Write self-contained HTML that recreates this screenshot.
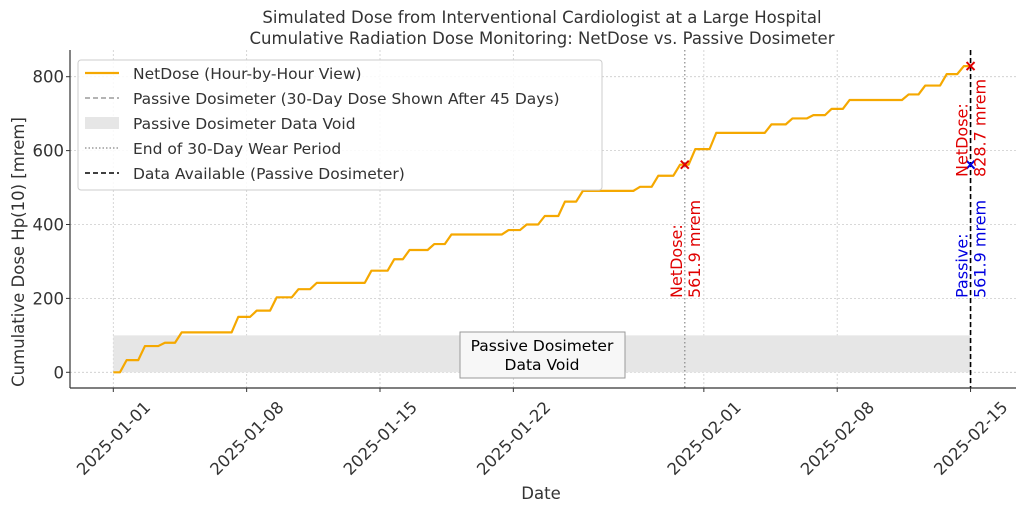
<!DOCTYPE html>
<html><head><meta charset="utf-8"><style>
html,body{margin:0;padding:0;background:#fff;}
svg{display:block;font-family:"DejaVu Sans","Liberation Sans",sans-serif;}
</style></head><body>
<svg id="chart" width="1024" height="511" viewBox="0 0 1024 511" xmlns="http://www.w3.org/2000/svg">
<text x="542" y="23" text-anchor="middle" font-size="16.5" fill="#333">Simulated Dose from Interventional Cardiologist at a Large Hospital</text>
<text x="542" y="44" text-anchor="middle" font-size="16.5" fill="#333">Cumulative Radiation Dose Monitoring: NetDose vs. Passive Dosimeter</text>
<g id="grid"></g>
<g id="marks"></g>
<line x1="70" y1="50" x2="70" y2="388" stroke="#333" stroke-width="1.2"/>
<line x1="70" y1="388" x2="1016" y2="388" stroke="#333" stroke-width="1.2"/>
<g id="ticks"></g>
<text transform="translate(24,252) rotate(-90)" text-anchor="middle" font-size="16.5" fill="#333">Cumulative Dose Hp(10) [mrem]</text>
<text x="541" y="499" text-anchor="middle" font-size="16.5" fill="#333">Date</text>
<g>
<rect x="78" y="60" width="524" height="130" rx="3" fill="#fff" fill-opacity="0.85" stroke="#ccc"/>
<line x1="85" y1="73" x2="119" y2="73" stroke="#f5a800" stroke-width="2.2"/>
<text x="133" y="79" font-size="15.5" fill="#333">NetDose (Hour-by-Hour View)</text>
<line x1="85" y1="98" x2="119" y2="98" stroke="#888" stroke-width="1.2" stroke-dasharray="5,3"/>
<text x="133" y="104" font-size="15.5" fill="#333">Passive Dosimeter (30-Day Dose Shown After 45 Days)</text>
<rect x="85" y="117" width="34" height="12" fill="#e6e6e6"/>
<text x="133" y="129" font-size="15.5" fill="#333">Passive Dosimeter Data Void</text>
<line x1="85" y1="148" x2="119" y2="148" stroke="#888" stroke-width="1.2" stroke-dasharray="1.5,2"/>
<text x="133" y="154" font-size="15.5" fill="#333">End of 30-Day Wear Period</text>
<line x1="85" y1="173" x2="119" y2="173" stroke="#000" stroke-width="1.6" stroke-dasharray="5,3"/>
<text x="133" y="179" font-size="15.5" fill="#333">Data Available (Passive Dosimeter)</text>
</g>
</svg>
<script>
const stepDays=[0.35,1.31,2.36,3.24,6.21,7.18,8.23,9.37,10.33,13.2,14.4,15.2,16.5,17.4,20.4,21.35,22.3,23.36,24.3,27.3,28.26,29.4,30.2,31.3,34.2,35.3,36.4,37.36,38.3,41.4,42.27,43.4,44.3];
const stepValues=[33,71,80,108,150,167,203,225,242,275,306,331,347,373,385,400,423,462,491,502,532,561.9,604,648,671,687,696,713,737,752,776,807,828.7];
const endDay=45;
const wearEndDay=30;
const netDoseAt30=561.9;
const netDoseAt45=828.7;
const passiveDose=561.9;
const voidTop=100;
const yTicks=[0,200,400,600,800];
const xTickDays=[0,7,14,21,31,38,45];
const xTickLabels=["2025-01-01","2025-01-08","2025-01-15","2025-01-22","2025-02-01","2025-02-08","2025-02-15"];

const NS="http://www.w3.org/2000/svg";
const X=d=>113.3+d*19.05;
const Y=v=>372.3-v*0.3695;
function mk(parent,tag,attrs){const e=document.createElementNS(NS,tag);for(const k in attrs)e.setAttribute(k,attrs[k]);document.getElementById(parent).appendChild(e);return e;}

yTicks.forEach(v=>{
 const g=mk('grid','line',{x1:70,x2:1016,y1:Y(v),y2:Y(v),stroke:'#ccc','stroke-dasharray':'2,2','stroke-width':0.8});
 
 
 const t=mk('ticks','text',{x:64,y:Y(v)+6,'text-anchor':'end','font-size':16.5,fill:'#333'});
 t.textContent=v;
 
 
 mk('ticks','line',{x1:66,x2:70,y1:Y(v),y2:Y(v),stroke:'#333'});
});
xTickDays.forEach((d,i)=>{
 const g=mk('grid','line',{x1:X(d),x2:X(d),y1:50,y2:388,stroke:'#ccc','stroke-dasharray':'2,2','stroke-width':0.8});
 
 
 mk('ticks','line',{x1:X(d),x2:X(d),y1:388,y2:392,stroke:'#333'});
 const t=mk('ticks','text',{transform:`translate(${X(d)},${438}) rotate(-45)`,'text-anchor':'middle','font-size':16.5,fill:'#333',dy:'6'});
 t.textContent=xTickLabels[i];
 
 
});
const vr=mk('marks','rect',{x:X(0),y:Y(voidTop),width:X(endDay)-X(0),height:Y(0)-Y(voidTop),fill:'#e6e6e6'});


let pts=[[X(0),Y(0)]];let prev=0;
stepDays.forEach((d,i)=>{pts.push([X(d),Y(prev)]);pts.push([X(d+0.35),Y(stepValues[i])]);prev=stepValues[i];});
pts.push([X(endDay),Y(prev)]);
const pl=mk('marks','polyline',{points:pts.map(p=>p.join(',')).join(' '),fill:'none',stroke:'#f5a800','stroke-width':2.2,'stroke-linejoin':'round'});


const vl1=mk('marks','line',{x1:X(wearEndDay),x2:X(wearEndDay),y1:50,y2:388,stroke:'#888','stroke-width':1.2,'stroke-dasharray':'1.5,2.5'});


const vl2=mk('marks','line',{x1:X(endDay),x2:X(endDay),y1:50,y2:388,stroke:'#000','stroke-width':1.6,'stroke-dasharray':'5,3'});


function cross(d,v,c,name){const x=X(d),y=Y(v);const p=mk('marks','path',{d:`M${x-4},${y-4}L${x+4},${y+4}M${x-4},${y+4}L${x+4},${y-4}`,stroke:c,'stroke-width':2});
 
 }
cross(wearEndDay,netDoseAt30,'#e00000','netdose-30-marker');
cross(endDay,netDoseAt45,'#e00000','netdose-45-marker');
cross(endDay,passiveDose,'#0000e0','passive-marker');
function ann(x,yb,l1,l2,c,name){const t=mk('marks','text',{transform:`translate(${x},${yb}) rotate(-90)`,'font-size':16,fill:c});
 
 
 const a=document.createElementNS(NS,'tspan');a.setAttribute('x',0);a.setAttribute('y',-3);a.textContent=l1;t.appendChild(a);
 const b=document.createElementNS(NS,'tspan');b.setAttribute('x',0);b.setAttribute('y',15);b.textContent=l2;t.appendChild(b);}
ann(X(wearEndDay),298,'NetDose:',netDoseAt30.toFixed(1)+' mrem','#e00000','netdose-30-label');
ann(X(endDay),177,'NetDose:',netDoseAt45.toFixed(1)+' mrem','#e00000','netdose-45-label');
ann(X(endDay),298,'Passive:',passiveDose.toFixed(1)+' mrem','#0000e0','passive-label');
const bx=mk('marks','rect',{x:460,y:332,width:165,height:46,fill:'#f7f7f7',stroke:'#999'});


const t1=mk('marks','text',{x:542,y:351,'text-anchor':'middle','font-size':15.5,fill:'#000'});t1.textContent='Passive Dosimeter';


const t2=mk('marks','text',{x:542,y:370,'text-anchor':'middle','font-size':15.5,fill:'#000'});t2.textContent='Data Void';


</script>
</body></html>
